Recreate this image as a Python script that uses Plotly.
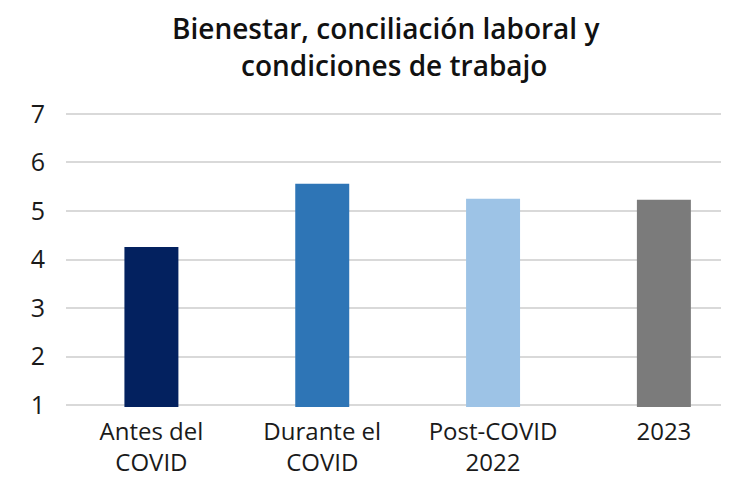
import plotly.graph_objects as go

categories = ["Antes del<br>COVID", "Durante el<br>COVID", "Post-COVID<br>2022", "2023"]
values = [4.26, 5.56, 5.25, 5.23]
colors = ["#03215f", "#2e75b6", "#9dc3e6", "#7b7b7b"]
title_lines = ["Bienestar, conciliación laboral y", "condiciones de trabajo"]

FONT = "Open Sans, sans-serif"
OFF = 8  # page body offset
L, T, B = 58, 104, 83
PW, PH = 729 - L, 482 - T - B

fig = go.Figure(go.Bar(x=categories, y=values, marker=dict(color=colors, line=dict(width=0)), width=0.316))

fig.update_layout(
    width=729, height=482,
    margin=dict(l=L, r=0, t=T, b=B),
    paper_bgcolor="white", plot_bgcolor="white",
    font=dict(family=FONT, color="#1a1a1a"),
    showlegend=False,
)
for line, xc, yc in zip(title_lines, [385, 394], [28, 65]):
    fig.add_annotation(text=line, xref="paper", yref="paper", x=(xc - OFF - L) / PW, xanchor="center",
                       y=1 + (T + OFF - yc) / PH, yanchor="middle", showarrow=False,
                       font=dict(size=28, family=FONT, color="#111111", weight=600))

fig.update_xaxes(range=[-0.5, 3.428], showgrid=False, showline=False, ticks="",
                 ticklabelstandoff=8, tickfont=dict(size=24, color="#1a1a1a"))
fig.update_yaxes(range=[0.96, 7.04], tickvals=[1, 2, 3, 4, 5, 6, 7], showgrid=True, gridcolor="#d9d9d9",
                 gridwidth=1.5, zeroline=False, showline=False, ticks="", ticklabelstandoff=20,
                 tickfont=dict(size=25, color="#1a1a1a"))

fig.write_html("out.html")
